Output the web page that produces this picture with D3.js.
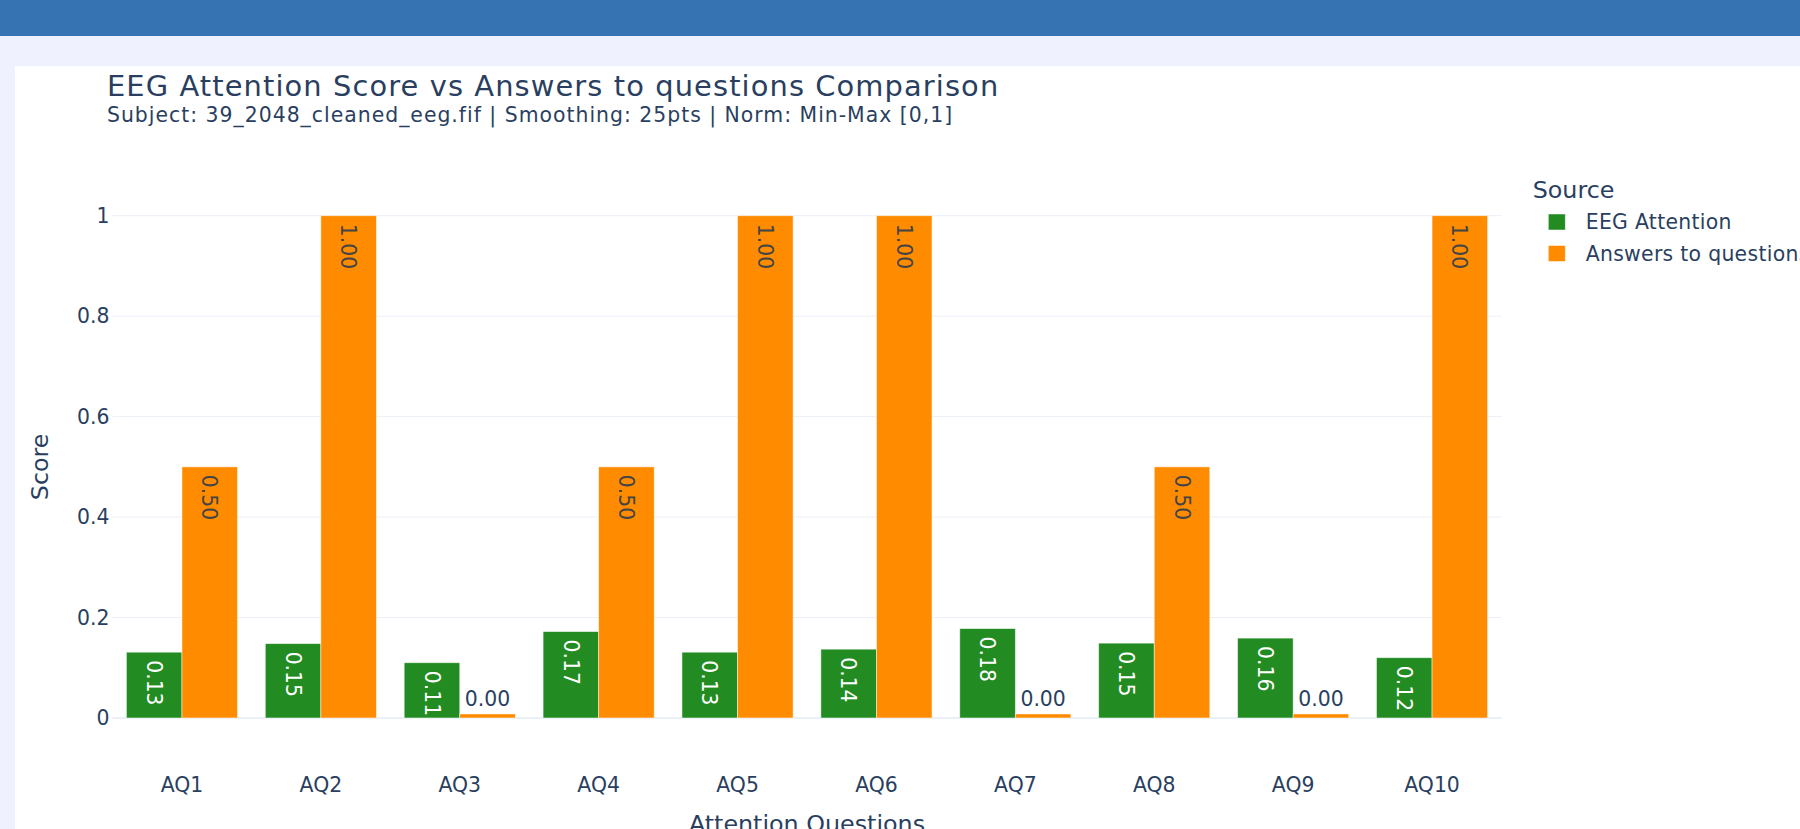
<!DOCTYPE html>
<html>
<head>
<meta charset="utf-8">
<script src="https://cdn.jsdelivr.net/npm/d3@7"></script>
<style>
  html, body { margin: 0; padding: 0; overflow: hidden; background: #eff2fe; }
  svg { display: block; }
</style>
</head>
<body>
<svg id="chart" width="1800" height="829"></svg>
<script>
const categories = ["AQ1","AQ2","AQ3","AQ4","AQ5","AQ6","AQ7","AQ8","AQ9","AQ10"];
const seriesNames = ["EEG Attention", "Answers to questions"];
const eegAttention = [0.131, 0.148, 0.110, 0.172, 0.131, 0.137, 0.178, 0.149, 0.159, 0.120];
const answers = [0.5, 1.0, 0.0, 0.5, 1.0, 1.0, 0.0, 0.5, 0.0, 1.0];
const yTicks = [0, 0.2, 0.4, 0.6, 0.8, 1];
const titleText = "EEG Attention Score vs Answers to questions Comparison";
const subtitleText = "Subject: 39_2048_cleaned_eeg.fif | Smoothing: 25pts | Norm: Min-Max [0,1]";

const colors = ["#228b22", "#ff8c00"];
const FONT = "'DejaVu Sans', Verdana, sans-serif";
const TXT = "#2a3f5f";
const minVisible = 0.008; // zero bars shown as a thin sliver

const svg = d3.select("#chart");
// top bar
svg.append("rect").attr("x",0).attr("y",0).attr("width",1800).attr("height",36).attr("fill","#3673b3");
// white panel
svg.append("rect").attr("x",15).attr("y",66).attr("width",1800).attr("height",800).attr("fill","#ffffff");

const plot = {left: 112.5, right: 1501.5, top: 165.5, bottom: 768.2};

const x0 = d3.scaleBand().domain(categories).range([plot.left, plot.right]).paddingInner(0.2).paddingOuter(0.1);
const x1 = d3.scaleBand().domain(seriesNames).range([0, x0.bandwidth()]);
const y = d3.scaleLinear().domain([-0.1, 1.1]).range([plot.bottom, plot.top]);

// grid
svg.append("g").selectAll("line").data(yTicks).join("line")
  .attr("x1", plot.left).attr("x2", plot.right)
  .attr("y1", d => y(d)).attr("y2", d => y(d))
  .attr("stroke", "#ebf0f8").attr("stroke-width", d => d === 0 ? 2 : 1);

// y axis
const yAxis = svg.append("g").attr("transform", `translate(${plot.left},0)`)
  .call(d3.axisLeft(y).tickValues(yTicks).tickSize(0).tickPadding(3).tickFormat(d => d3.format("~g")(d)));
yAxis.select(".domain").remove();
yAxis.selectAll("text").attr("font-family", FONT).attr("font-size", 20.4).attr("fill", TXT);

// x axis
const xAxis = svg.append("g").attr("transform", `translate(0,${plot.bottom})`)
  .call(d3.axisBottom(x0).tickSize(0).tickPadding(9));
xAxis.select(".domain").remove();
xAxis.selectAll("text").attr("font-family", FONT).attr("font-size", 20.4).attr("fill", TXT).attr("dy", "0.71em");

const rows = categories.map((c, i) => ({c, vals: [eegAttention[i], answers[i]]}));

const groups = svg.append("g").selectAll("g").data(rows).join("g")
  .attr("transform", d => `translate(${x0(d.c)},0)`);

const bars = groups.selectAll("g.bar").data(d => d.vals.map((v, k) => ({v, k, name: seriesNames[k]}))).join("g").attr("class","bar");

bars.append("rect")
  .attr("x", d => x1(d.name))
  .attr("width", x1.bandwidth())
  .attr("y", d => y(Math.max(d.v, minVisible)))
  .attr("height", d => y(0) - y(Math.max(d.v, minVisible)))
  .attr("fill", d => colors[d.k])
  .attr("stroke", "rgba(255,255,255,0.6)").attr("stroke-width", 0.8);

// labels
bars.each(function(d) {
  const g = d3.select(this);
  const label = d.v.toFixed(2);
  const cx = x1(d.name) + x1.bandwidth() / 2;
  const barH = y(0) - y(d.v);
  if (barH > 55) {
    const tcol = d.k === 0 ? "#ffffff" : "#444444";
    g.append("text")
      .attr("transform", `translate(${cx},${y(d.v) + 8}) rotate(90)`)
      .attr("text-anchor", "start")
      .attr("dy", "0.36em")
      .attr("font-family", FONT).attr("font-size", 20.4)
      .attr("fill", tcol)
      .text(label);
  } else {
    g.append("text")
      .attr("x", cx).attr("y", y(Math.max(d.v, minVisible)) - 8)
      .attr("text-anchor", "middle")
      .attr("font-family", FONT).attr("font-size", 20.4)
      .attr("fill", TXT)
      .text(label);
  }
});

// titles
svg.append("text").attr("x", 107).attr("y", 96).attr("font-family", FONT).attr("font-size", 28.9)
  .attr("letter-spacing", 1.1).attr("fill", TXT).text(titleText);
svg.append("text").attr("x", 107).attr("y", 122).attr("font-family", FONT).attr("font-size", 20.4)
  .attr("letter-spacing", 1.0).attr("fill", TXT).text(subtitleText);

svg.append("text").attr("transform", `translate(48,${(plot.top + plot.bottom) / 2}) rotate(-90)`)
  .attr("text-anchor", "middle").attr("font-family", FONT).attr("font-size", 23.8).attr("fill", TXT).text("Score");
svg.append("text").attr("x", (plot.left + plot.right) / 2).attr("y", 831.5)
  .attr("text-anchor", "middle").attr("font-family", FONT).attr("font-size", 23.8).attr("fill", TXT).text("Attention Questions");

// legend
const lg = svg.append("g").attr("transform", "translate(1532.7,0)");
lg.append("text").attr("x", 0).attr("y", 198.3).attr("font-family", FONT).attr("font-size", 23.8).attr("fill", TXT).text("Source");
const items = lg.selectAll("g.item").data(seriesNames).join("g").attr("class","item")
  .attr("transform", (d, i) => `translate(0,${222 + i * 31.5})`);
items.append("rect").attr("x", 15.6).attr("y", -8).attr("width", 17).attr("height", 16)
  .attr("fill", (d, i) => colors[i]).attr("stroke", "rgba(255,255,255,0.6)").attr("stroke-width", 0.8);
items.append("text").attr("x", 53).attr("y", 0).attr("dy", "0.35em")
  .attr("font-family", FONT).attr("font-size", 20.4).attr("letter-spacing", 0.3).attr("fill", TXT).text(d => d);
</script>
</body>
</html>
